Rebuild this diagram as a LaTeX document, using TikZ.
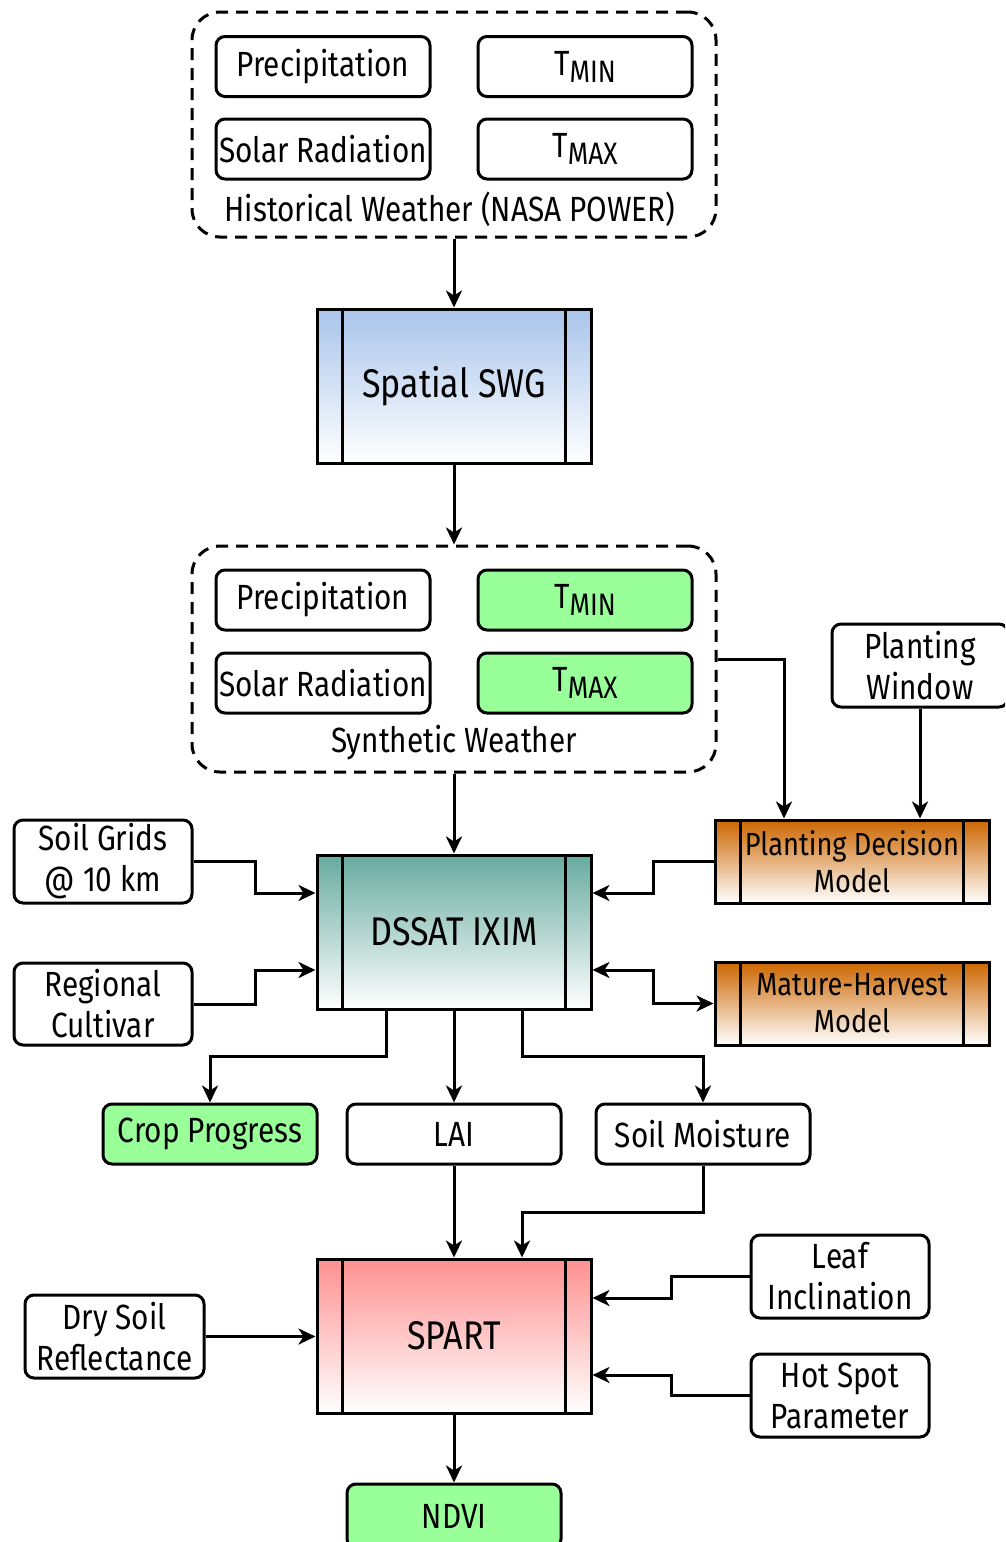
\documentclass[tikz,border=0pt]{standalone}
\usepackage{fontspec}
\setmainfont{Fira Sans}[FakeStretch=0.85]
\usetikzlibrary{arrows.meta}
\definecolor{cgreen}{HTML}{99FF99}
\definecolor{cblue}{HTML}{A9C4EB}
\definecolor{cteal}{HTML}{67AB9F}
\definecolor{corange}{HTML}{CC6600}
\definecolor{cred}{HTML}{FF9090}
\newcommand\lbl{\fontsize{35}{41}\selectfont}
\newcommand\biglbl{\fontsize{40}{44}\selectfont}
\newcommand\midlbl{\fontsize{32}{37}\selectfont}
\newcommand\Tsub[1]{T\raisebox{-7pt}{\fontsize{31}{31}\selectfont #1}}
\newcommand\procbars[1]{%
  \draw[lw] ([xshift=27pt]#1.north west) -- ([xshift=27pt]#1.south west);
  \draw[lw] ([xshift=-27pt]#1.north east) -- ([xshift=-27pt]#1.south east);}
\begin{document}
\begin{tikzpicture}[x=1pt,y=-1pt,
  lw/.style={line width=3pt},
  arr/.style={lw, -{Stealth[length=17pt,width=16pt,inset=5pt]}},
  darr/.style={lw, {Stealth[length=17pt,width=16pt,inset=5pt]}-{Stealth[length=17pt,width=16pt,inset=5pt]}},
  rbox/.style={draw, lw, rounded corners=9pt, minimum width=214pt, minimum height=60pt, inner sep=0pt, align=center, font=\lbl},
  tbox/.style={rbox, minimum width=178pt, minimum height=83pt},
  grp/.style={draw, lw, rounded corners=28pt, dash pattern=on 12pt off 8pt, minimum width=524pt, inner sep=0pt},
  proc/.style={draw, lw, minimum width=274pt, minimum height=154pt, inner sep=0pt, align=center, font=\biglbl, bottom color=white},
  mproc/.style={proc, minimum height=83pt, font=\midlbl, top color=corange, bottom color=white},
  gfill/.style={fill=cgreen},
  txt/.style={inner sep=0pt, font=\lbl}
]
\useasboundingbox (0,0) rectangle (1005,1542);
\fill[white] (0,0) rectangle (1005,1542);
\clip (0,0) rectangle (1005,1542);

% Historical weather group
\node[grp, minimum height=225pt] (hist) at (454,124.5) {};
\node[rbox] (hprec) at (323,66.5) {Precipitation};
\node[rbox] (htmin) at (585,66.5) {\Tsub{MIN}};
\node[rbox] (hsolar) at (323,149) {Solar Radiation};
\node[rbox] (htmax) at (585,149) {\Tsub{MAX}};
\node[txt] (histlbl) at (450,209) {Historical Weather (NASA POWER)};

% Spatial SWG
\node[proc, top color=cblue] (swg) at (454,386) {Spatial SWG};
\procbars{swg}

% Synthetic weather group
\node[grp, minimum height=226pt] (syn) at (454,659) {};
\node[rbox] (sprec) at (323,600) {Precipitation};
\node[rbox, gfill] (stmin) at (585,600) {\Tsub{MIN}};
\node[rbox] (ssolar) at (323,683) {Solar Radiation};
\node[rbox, gfill] (stmax) at (585,683) {\Tsub{MAX}};
\node[txt] (synlbl) at (454,743) {Synthetic Weather};

% DSSAT
\node[proc, top color=cteal] (dssat) at (454,932) {DSSAT IXIM};
\procbars{dssat}

% Side inputs
\node[tbox, minimum width=176pt] (pw) at (920,665.5) {Planting\\Window};
\node[mproc] (pdm) at (852,861.5) {Planting Decision\\Model};
\procbars{pdm}
\node[mproc] (mhm) at (852,1003.5) {Mature-Harvest\\Model};
\procbars{mhm}
\node[tbox] (soil) at (103,861.5) {Soil Grids\\@ 10 km};
\node[tbox, minimum height=82pt] (cult) at (103,1004) {Regional\\Cultivar};

% Outputs
\node[rbox, gfill] (crop) at (210,1134) {Crop Progress};
\node[rbox] (lai) at (454,1134) {LAI};
\node[rbox] (sm) at (703,1134) {Soil Moisture};

% SPART
\node[proc, top color=cred] (spart) at (454,1336) {SPART};
\procbars{spart}
\node[tbox, minimum width=179pt] (dry) at (114.5,1336.5) {Dry Soil\\Reflectance};
\node[tbox] (leaf) at (840,1276.5) {Leaf\\Inclination};
\node[tbox] (hot) at (840,1395.5) {Hot Spot\\Parameter};
\node[rbox, gfill, minimum height=64pt] (ndvi) at (454,1516) {NDVI};

% Connectors
\draw[arr] (hist.south) -- (swg.north);
\draw[arr] (swg.south) -- (syn.north);
\draw[arr] (syn.south) -- (dssat.north);
\draw[arr] (syn.east) -| (pdm.north -| 784,0);
\draw[arr] (pw.south) -- (pdm.north -| pw.south);
\draw[arr] (soil.east) -- (255,861.5) -- (255,893) -- (dssat.west |- 0,893);
\draw[arr] (cult.east) -- (255,1004) -- (255,970) -- (dssat.west |- 0,970);
\draw[arr] (pdm.west) -- (653,861.5) -- (653,893) -- (dssat.east |- 0,893);
\draw[darr] (dssat.east |- 0,970) -- (653,970) -- (653,1003.5) -- (mhm.west);
\draw[arr] (dssat.south -| 386,0) -- (386,1056) -| (crop.north);
\draw[arr] (dssat.south) -- (lai.north);
\draw[arr] (dssat.south -| 522,0) -- (522,1056) -| (sm.north);
\draw[arr] (lai.south) -- (spart.north);
\draw[arr] (sm.south) -- (703,1212) -| (spart.north -| 522,0);
\draw[arr] (dry.east) -- (spart.west |- dry.east);
\draw[arr] (leaf.west) -- (671,1276.5) -- (671,1298) -- (spart.east |- 0,1298);
\draw[arr] (hot.west) -- (671,1395.5) -- (671,1375) -- (spart.east |- 0,1375);
\draw[arr] (spart.south) -- (ndvi.north);
\end{tikzpicture}
\end{document}
